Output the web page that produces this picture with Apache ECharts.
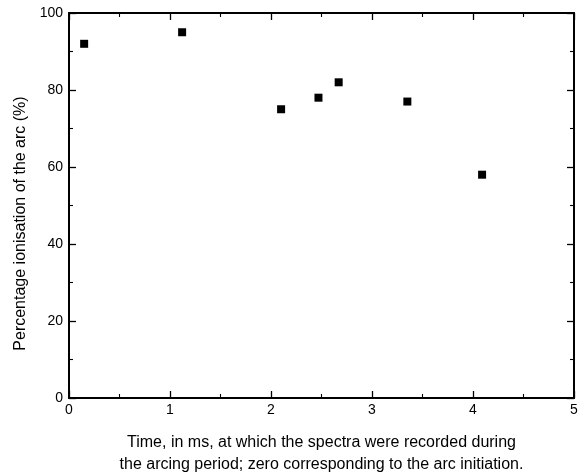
<!DOCTYPE html>
<html>
<head>
<meta charset="utf-8">
<script src="https://cdn.jsdelivr.net/npm/echarts@6/dist/echarts.min.js"></script>
<style>
  html, body { margin: 0; padding: 0; background: #fff; }
  #chart { width: 587px; height: 475px; }
</style>
</head>
<body>
<div id="chart"></div>
<script>
// time (ms) vs percentage ionisation
const timeMs = [0.15, 1.12, 2.1, 2.47, 2.67, 3.35, 4.09];
const ionisation = [92, 95, 75, 78, 82, 77, 58];
const xTicks = [0, 1, 2, 3, 4, 5];
const yTicks = [0, 20, 40, 60, 80, 100];

const font = 'Liberation Sans, Arial, sans-serif';
const lineStyle = { color: '#000', width: 2 };

const points = timeMs.map((t, i) => [t, ionisation[i]]);

const baseTick = { inside: true, length: 7, lineStyle: { color: '#000', width: 1.3 } };
const minor = { show: true, splitNumber: 2, length: 4, lineStyle: { color: '#000', width: 1.1 } };

const myChart = echarts.init(document.getElementById('chart'));
myChart.setOption({
  animation: false,
  backgroundColor: '#fff',
  grid: { left: 69, right: 13, top: 13, bottom: 77, outerBoundsMode: 'none' },
  xAxis: [
    {
      type: 'value', min: xTicks[0], max: xTicks[xTicks.length - 1], interval: 1,
      position: 'bottom',
      name: 'Time, in ms, at which the spectra were recorded during\nthe arcing period; zero corresponding to the arc initiation.',
      nameLocation: 'middle', nameGap: 34,
      nameTextStyle: { fontFamily: font, fontSize: 16, color: '#000', lineHeight: 22 },
      axisLine: { onZero: false, lineStyle },
      axisTick: baseTick,
      minorTick: minor,
      axisLabel: { fontFamily: font, fontSize: 14, color: '#000', margin: 5 },
      splitLine: { show: false }
    },
    {
      type: 'value', min: 0, max: 5, interval: 1, position: 'top',
      axisLine: { onZero: false, lineStyle },
      axisTick: baseTick,
      minorTick: minor,
      axisLabel: { show: false },
      splitLine: { show: false }
    }
  ],
  yAxis: [
    {
      type: 'value', min: yTicks[0], max: yTicks[yTicks.length - 1], interval: 20,
      position: 'left',
      name: 'Percentage ionisation of the arc (%)',
      nameLocation: 'middle', nameGap: 39,
      nameTextStyle: { fontFamily: font, fontSize: 16, color: '#000', padding: [0, 36, 0, 0] },
      axisLine: { onZero: false, lineStyle },
      axisTick: baseTick,
      minorTick: minor,
      axisLabel: { fontFamily: font, fontSize: 14, color: '#000', margin: 6 },
      splitLine: { show: false }
    },
    {
      type: 'value', min: 0, max: 100, interval: 20, position: 'right',
      axisLine: { onZero: false, lineStyle },
      axisTick: baseTick,
      minorTick: minor,
      axisLabel: { show: false },
      splitLine: { show: false }
    }
  ],
  series: [
    {
      type: 'scatter',
      data: points,
      symbol: 'rect',
      symbolSize: 8,
      itemStyle: { color: '#000', opacity: 1 }
    }
  ]
});
window.addEventListener('resize', () => {
  myChart.resize();
});
</script>
</body>
</html>
